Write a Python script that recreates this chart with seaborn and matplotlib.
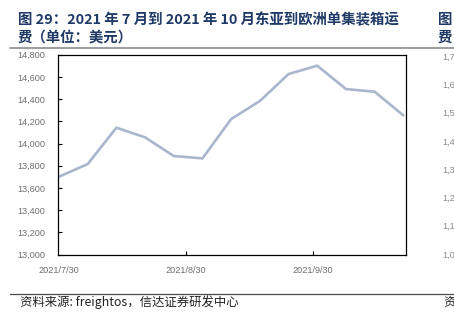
import matplotlib
matplotlib.use("Agg")
import matplotlib.pyplot as plt
from matplotlib.ticker import FuncFormatter, MultipleLocator
import seaborn as sns
import pandas as pd
from datetime import timedelta
from matplotlib.lines import Line2D

# Weekly East Asia -> Europe container freight (USD / FEU)
dates = ["2021-07-30", "2021-08-06", "2021-08-13", "2021-08-20", "2021-08-27",
         "2021-09-03", "2021-09-10", "2021-09-17", "2021-09-24", "2021-10-01",
         "2021-10-08", "2021-10-15", "2021-10-22"]
rates = [13702, 13816, 14143, 14056, 13888, 13867, 14221, 14383, 14626, 14701,
         14491, 14467, 14254]
x_tick_labels = ["2021/7/30", "2021/8/30", "2021/9/30"]
x_tick_dates = ["2021-07-30", "2021-08-30", "2021-09-30"]
right_labels = ["1,7", "1,6", "1,5", "1,4", "1,3", "1,2", "1,1", "1,0"]

df = pd.DataFrame({"date": pd.to_datetime(dates), "rate": rates})

sns.set_theme(style="white")
plt.rcParams["font.family"] = ["Noto Sans CJK SC", "DejaVu Sans"]

W, H = 454, 322
fig = plt.figure(figsize=(W / 100, H / 100), dpi=100)
ax = fig.add_axes([58 / W, 1 - 254.7 / H, (405.7 - 58) / W, (254.7 - 54.7) / H])

sns.lineplot(data=df, x="date", y="rate", ax=ax, color="#A9B6CC", linewidth=1.9)

ax.set_ylim(13000, 14800)
ax.yaxis.set_major_locator(MultipleLocator(200))
ax.yaxis.set_major_formatter(FuncFormatter(lambda v, p: f"{int(v):,}"))
ax.set_xlim(pd.Timestamp("2021-07-30") - timedelta(hours=6),
            pd.Timestamp("2021-10-22") + timedelta(hours=14))
ax.set_xticks(pd.to_datetime(x_tick_dates))
ax.set_xticklabels(x_tick_labels)
ax.set_xlabel("")
ax.set_ylabel("")

tick_family = ["Liberation Sans", "DejaVu Sans"]
for lab in ax.get_yticklabels() + ax.get_xticklabels():
    lab.set_fontfamily(tick_family)
    lab.set_fontsize(6.6)
    lab.set_color("#6E6E6E")

ax.tick_params(axis="y", direction="in", length=3, width=0.8, color="black", pad=9, left=True)
ax.tick_params(axis="x", direction="in", length=3, width=0.8, color="black", pad=8, bottom=True)
# no tick mark at the leftmost x label
ax.xaxis.get_major_ticks()[0].tick1line.set_visible(False)
for s in ax.spines.values():
    s.set_visible(True)
    s.set_color("black")
    s.set_linewidth(0.9)


def fx(px):
    return px / W


def fy(py):
    return 1 - py / H


title_kw = dict(color="#1F3A66", fontsize=10.4, fontweight="bold", va="center", ha="left")
fig.text(fx(18), fy(20), "图 29：2021 年 7 月到 2021 年 10 月东亚到欧洲单集装箱运", **title_kw)
fig.text(fx(18), fy(37.5), "费（单位：美元）", **title_kw)
fig.text(fx(438), fy(20), "图", **title_kw)
fig.text(fx(438), fy(37.5), "费", **title_kw)

# header and footer rules
fig.add_artist(Line2D([fx(10), fx(454)], [fy(47.5), fy(47.5)], color="#8C8C8C", linewidth=1.2))
fig.add_artist(Line2D([fx(10), fx(454)], [fy(293.5), fy(293.5)], color="#4A4A4A", linewidth=0.9))

fig.text(fx(20), fy(302), "资料来源: freightos，信达证券研发中心", fontsize=8.9,
         style="italic", color="#222222", va="center", ha="left")
fig.text(fx(443), fy(302), "资", fontsize=8.9, style="italic", color="#222222",
         va="center", ha="left")

# neighbouring axis labels at the right edge
for i, t in enumerate(right_labels):
    y = 57 + i * (255 - 57) / (len(right_labels) - 1)
    fig.text(fx(442), fy(y), t, fontsize=6.6, family=tick_family,
             color="#8A8A8A", va="center", ha="left")

fig.savefig("out.png", dpi=100)
